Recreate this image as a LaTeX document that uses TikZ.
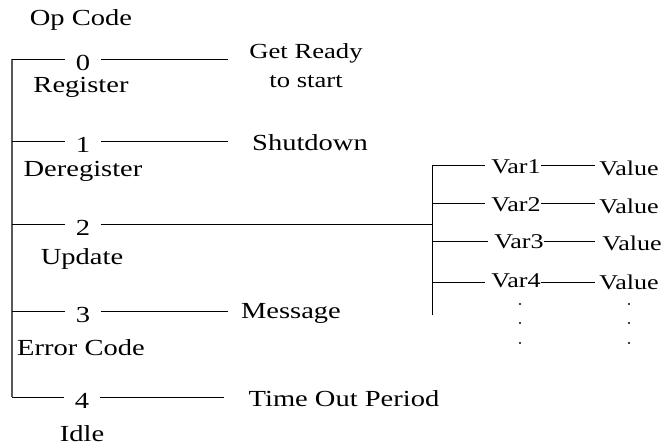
\documentclass[tikz,border=0pt]{standalone}
\usepackage{fontspec}
\setmainfont{Liberation Serif}[FakeStretch=1.24]
\begin{document}
\begin{tikzpicture}[x=1pt,y=-1pt,
  txt/.style={font=\fontsize{23}{27}\selectfont, inner sep=0pt, align=center},
  sml/.style={font=\fontsize{21}{24}\selectfont, inner sep=0pt},
  num/.style={font=\fontsize{23}{27}\selectfont, inner xsep=11pt, inner ysep=0pt},
  ln/.style={line width=0.9pt, black},
  busl/.style={line width=1.1pt, draw=black!65}]
\useasboundingbox (0,0) rectangle (663,447);

% header
\node[txt] (op) at (81,20) {Op Code};

% left bus
\coordinate (btop) at (12,59);
\coordinate (bbot) at (12,397);
\draw[busl] (btop) -- (bbot);

% bus taps
\coordinate (l0) at (12,59);
\coordinate (l1) at (12,141);
\coordinate (l2) at (12,224);
\coordinate (l3) at (12,311);
\coordinate (l4) at (12,397);

% numbers
\node[num] (n0) at (83,63) {0};
\node[num] (n1) at (83,145) {1};
\node[num] (n2) at (83,228) {2};
\node[num] (n3) at (83,315) {3};
\node[num] (n4) at (82,401) {4};

% names
\node[txt] (m0) at (81,87) {Register};
\node[txt] (m1) at (83,171) {Deregister};
\node[txt] (m2) at (82,259) {Update};
\node[txt] (m3) at (81,348) {Error Code};
\node[txt] (m4) at (82,434) {Idle};

% results
\node[txt, font=\fontsize{21.5}{29}\selectfont] (g0) at (306,66) {Get Ready\\to start};
\node[txt] (g1) at (310,143) {Shutdown};
\node[txt] (g3) at (291,313) {Message};
\node[txt] (g4) at (344,399) {Time Out Period};

\coordinate (r0) at (228,59);
\coordinate (r1) at (228,141);
\coordinate (r3) at (228,311);
\coordinate (r4) at (224,397);

\foreach \i in {0,...,4} {\draw[ln] (l\i) -- (l\i -| n\i.west);}
\draw[ln] (n0.east |- l0) -- (r0);
\draw[ln] (n1.east |- l1) -- (r1);
\draw[ln] (n3.east |- l3) -- (r3);
\draw[ln] (n4.east |- l4) -- (r4);

% variable bracket
\coordinate (vtop) at (432,165);
\coordinate (vbot) at (432,315);
\coordinate (vj) at (432,224);
\draw[ln] (vtop) -- (vbot);
\draw[ln] (n2.east |- l2) -- (vj);

\node[sml] (v1) at (516,167) {Var1};
\node[sml] (v2) at (516,205) {Var2};
\node[sml] (v3) at (519,242) {Var3};
\node[sml] (v4) at (516,281) {Var4};
\node[sml] (w1) at (629,168) {Value};
\node[sml] (w2) at (629,206) {Value};
\node[sml] (w3) at (632,243) {Value};
\node[sml] (w4) at (629,282) {Value};

\coordinate (t1) at (432,165);
\coordinate (t2) at (432,203);
\coordinate (t3) at (432,241);
\coordinate (t4) at (432,282);
\coordinate (e1) at (595,165);
\coordinate (e2) at (595,203);
\coordinate (e3) at (595,241);
\coordinate (e4) at (595,282);
\foreach \i in {1,...,4} {
  \draw[ln] (t\i) -- ([xshift=-6pt]v\i.west |- t\i);
  \draw[ln] (v\i.east |- t\i) -- (e\i);
}

% dots
\foreach \y [count=\k] in {304,323,343} {
  \fill (520,\y) circle (1.1pt);
  \fill (629,\y) circle (1.1pt);
}
\end{tikzpicture}
\end{document}
